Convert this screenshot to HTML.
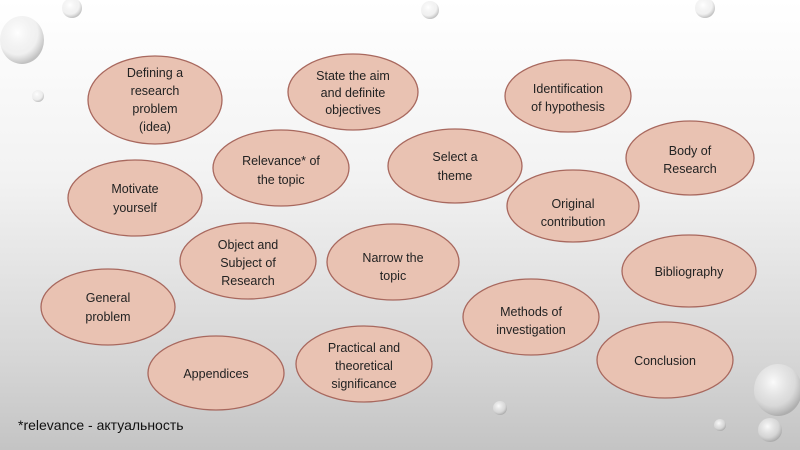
<!DOCTYPE html>
<html><head><meta charset="utf-8"><style>
html,body{margin:0;padding:0}
body{width:800px;height:450px;overflow:hidden;background:linear-gradient(180deg,#ffffff 0%,#f2f2f2 40%,#d6d6d6 80%,#c4c4c4 100%);font-family:"Liberation Sans",sans-serif}
</style></head><body>
<svg width="800" height="450" xmlns="http://www.w3.org/2000/svg" style="position:absolute;left:0;top:0">
<defs>
<radialGradient id="drop" cx="40%" cy="35%" r="65%">
<stop offset="0" stop-color="#ffffff" stop-opacity="0.9"/>
<stop offset="0.7" stop-color="#e4e4e4" stop-opacity="0.5"/>
<stop offset="1" stop-color="#9a9a9a" stop-opacity="0.6"/>
</radialGradient>
</defs>
<g fill="url(#drop)">
<ellipse cx="22" cy="40" rx="22" ry="24"/>
<circle cx="72" cy="8" r="10"/>
<circle cx="38" cy="96" r="6"/>
<circle cx="430" cy="10" r="9"/>
<circle cx="705" cy="8" r="10"/>
<ellipse cx="778" cy="390" rx="24" ry="26"/>
<circle cx="770" cy="430" r="12"/>
<circle cx="500" cy="408" r="7"/>
<circle cx="720" cy="425" r="6"/>
</g>
<g fill="#e9c2b2" stroke="#a8685e" stroke-width="1.3">
<ellipse cx="155" cy="100" rx="67" ry="44"/>
<ellipse cx="353" cy="92" rx="65" ry="38"/>
<ellipse cx="568" cy="96" rx="63" ry="36"/>
<ellipse cx="281" cy="168" rx="68" ry="38"/>
<ellipse cx="455" cy="166" rx="67" ry="37"/>
<ellipse cx="690" cy="158" rx="64" ry="37"/>
<ellipse cx="135" cy="198" rx="67" ry="38"/>
<ellipse cx="573" cy="206" rx="66" ry="36"/>
<ellipse cx="248" cy="261" rx="68" ry="38"/>
<ellipse cx="393" cy="262" rx="66" ry="38"/>
<ellipse cx="689" cy="271" rx="67" ry="36"/>
<ellipse cx="108" cy="307" rx="67" ry="38"/>
<ellipse cx="531" cy="317" rx="68" ry="38"/>
<ellipse cx="216" cy="373" rx="68" ry="37"/>
<ellipse cx="364" cy="364" rx="68" ry="38"/>
<ellipse cx="665" cy="360" rx="68" ry="38"/>
</g>
<g font-family="Liberation Sans, sans-serif" font-size="12.5" fill="#222" text-anchor="middle">
<text x="155" y="77">Defining a</text><text x="155" y="95">research</text><text x="155" y="113">problem</text><text x="155" y="131">(idea)</text>
<text x="353" y="80">State the aim</text><text x="353" y="97">and definite</text><text x="353" y="114">objectives</text>
<text x="568" y="93">Identification</text><text x="568" y="111">of hypothesis</text>
<text x="281" y="165">Relevance* of</text><text x="281" y="184">the topic</text>
<text x="455" y="161">Select a</text><text x="455" y="180">theme</text>
<text x="690" y="155">Body of</text><text x="690" y="173">Research</text>
<text x="135" y="193">Motivate</text><text x="135" y="212">yourself</text>
<text x="573" y="208">Original</text><text x="573" y="226">contribution</text>
<text x="248" y="249">Object and</text><text x="248" y="267">Subject of</text><text x="248" y="285">Research</text>
<text x="393" y="262">Narrow the</text><text x="393" y="280">topic</text>
<text x="689" y="276">Bibliography</text>
<text x="108" y="302">General</text><text x="108" y="321">problem</text>
<text x="531" y="316">Methods of</text><text x="531" y="334">investigation</text>
<text x="216" y="378">Appendices</text>
<text x="364" y="352">Practical and</text><text x="364" y="370">theoretical</text><text x="364" y="388">significance</text>
<text x="665" y="365">Conclusion</text>
</g>
<text x="18" y="430" font-family="Liberation Sans, sans-serif" font-size="14" fill="#111">*relevance - актуальность</text>
</svg>
</body></html>
